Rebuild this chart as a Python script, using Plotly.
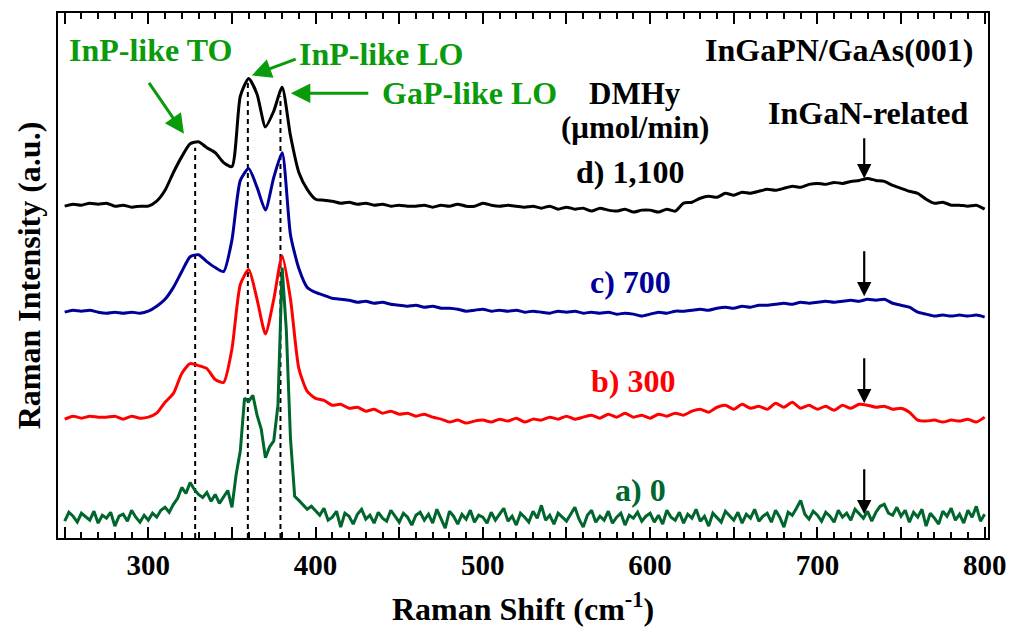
import plotly.graph_objects as go

# Raman shift grids (cm^-1)
shift = [250 + 5 * i for i in range(111)]          # 250 ... 800, step 5
shift_fine = [250 + 2.5 * i for i in range(221)]   # 250 ... 800, step 2.5

# Intensities (a.u.) of each spectrum above its own baseline, 10 values per 50 cm^-1
spec_d = [0, 2, 1, 3, 2, 3, 0, 1, -1, 0,
          0, 5, 16, 34, 50, 63, 65, 59, 54, 44,
          40, 111, 129, 113, 80, 96, 120, 71, 34, 17,
          7, 6, 5, 3, 4, 2, 3, 1, 2, 0,
          1, 0, 0, 1, -1, 1, 0, 2, 0, 0,
          3, 1, 0, 1, 0, -1, 0, -2, 0, -3,
          -1, -3, -2, -5, -2, -4, -5, -3, -6, -4,
          -4, -6, -3, -5, 3, 4, 8, 10, 9, 13,
          11, 14, 13, 15, 17, 16, 18, 20, 19, 22,
          23, 22, 24, 23, 25, 26, 28, 26, 25, 21,
          18, 15, 13, 7, 3, 4, 1, 1, 0, 1,
          -3]
spec_c = [0, 2, 1, 2, 0, -1, 0, -1, 0, -1,
          1, 6, 13, 25, 41, 56, 58, 51, 45, 41,
          73, 133, 145, 126, 103, 136, 161, 78, 44, 25,
          20, 17, 14, 13, 12, 10, 11, 9, 10, 8,
          7, 6, 7, 5, 6, 4, 4, 3, 1, 2,
          3, 1, 2, 1, 2, 0, 1, 0, -1, 1,
          0, 1, -1, 0, -1, 0, -2, -1, -2, -4,
          -2, 0, -1, 1, 1, 2, 3, 2, 4, 5,
          4, 6, 5, 7, 7, 8, 9, 8, 10, 9,
          10, 11, 10, 11, 12, 11, 13, 12, 13, 9,
          7, 5, 0, -2, -4, -3, -4, -3, -4, -3,
          -5]
spec_b = [-1, 2, 0, 2, 1, 1, 2, -1, 2, 0,
          1, 5, 16, 25, 45, 55, 53, 50, 39, 36,
          70, 135, 150, 120, 85, 120, 164, 120, 50, 27,
          20, 18, 13, 14, 10, 11, 7, 9, 5, 7,
          4, 5, 2, 4, 1, -1, -4, -2, -5, -3,
          -2, -4, -1, -3, 0, -4, -1, -2, 1, -1,
          2, -1, 1, 3, 0, 4, 1, 5, 1, 3,
          0, 4, 2, 5, 3, 7, 9, 6, 11, 13,
          9, 14, 10, 12, 9, 15, 11, 16, 10, 13,
          9, 12, 8, 13, 10, 14, 13, 11, 12, 9,
          10, 6, -2, -3, -2, -4, -2, -3, -1, -4,
          1]
# Undoped sample, sampled every 2.5 cm^-1, 20 values per 50 cm^-1
spec_a = [-3, 6, 2, -4, 5, 1, -2, 7, -5, 3, 0, 6, -8, 2, 4, -3, 8, 1, -4, 3,
          -2, 5, 1, 8, 11, 6, 14, 20, 31, 25, 36, 29, 24, 21, 26, 17, 24, 15, 22, 28,
          11, 44, 68, 121, 118, 124, 104, 90, 61, 72, 78, 114, 253, 190, 80, 22, 18, 14, 9, 12,
          8, 3, 10, -2, 1, 7, -9, 5, 2, -6, 4, 9, -1, 3, -5, 6, 0, -3, 8, 2,
          -4, 5, 1, -7, 3, 6, -2, 4, -5, 9, 0, -10, 7, 2, -6, 4, -1, 8, -4, 3,
          1, -5, 6, -2, 4, 10, -3, 2, -7, 5, 1, -4, 7, 0, 13, -2, 3, -6, 5, 1,
          -3, 4, 11, -1, -9, 3, 8, -4, 2, -2, 7, -5, 1, 5, -7, 3, 0, 6, -3, 2,
          5, -4, 3, -6, 8, 1, -2, 6, -5, 4, 0, 9, -3, 2, -8, 5, 1, -4, 7, 3,
          -2, 6, -5, 4, 0, 9, -3, 2, 5, -4, 8, 1, -9, 6, 3, 10, 18, 4, -1, 7,
          3, -3, 6, 2, -4, 8, 1, 5, -2, 9, 4, 0, 7, -3, 6, 12, 14, 5, 3, 11,
          2, 8, -4, 6, 1, 9, -8, 5, 0, -6, 7, 2, 10, -2, 4, -5, 8, 1, 12, -3,
          4]

for arr, grid in ((spec_d, shift), (spec_c, shift), (spec_b, shift), (spec_a, shift_fine)):
    assert len(arr) == len(grid)

# Vertical offsets used to stack the spectra
offsets = {"a": 20, "b": 121, "c": 228, "d": 335}

series_names = ["d) 1,100", "c) 700", "b) 300", "a) 0"]
series_keys = ["d", "c", "b", "a"]
series_data = [spec_d, spec_c, spec_b, spec_a]
series_grid = [shift, shift, shift, shift_fine]
series_colors = ["#000000", "#000099", "#ff0000", "#00662e"]
series_smooth = [True, True, True, False]

# Phonon mode positions (cm^-1): InP-like TO, InP-like LO, GaP-like LO
mode_positions = [328, 359.5, 379]
mode_tops = [394, 461, 446]

# InGaN-related feature position and arrow extents for each spectrum
ingan_shift = 728
ingan_arrows = {"d": (405, 363), "c": (291, 244), "b": (183, 136), "a": (71, 24)}

# Sample label positions (shift, intensity)
sample_labels = {"d": (588, 369), "c": (588, 258), "b": (589.5, 158), "a": (594, 48)}

FONT = "Liberation Serif, Times New Roman, serif"
GREEN_TXT = "#0a9b0a"

fig = go.Figure()

# Dashed guides at the phonon modes
for xp, top in zip(mode_positions, mode_tops):
    fig.add_shape(type="line", xref="x", yref="y", x0=xp, x1=xp, y0=0, y1=top,
                  line=dict(color="black", width=2, dash="5px,4px"), layer="below")

for name, key, data, grid, color, smooth in zip(series_names, series_keys, series_data,
                                                series_grid, series_colors, series_smooth):
    line = dict(color=color, width=3)
    if smooth:
        line.update(shape="spline", smoothing=0.6)
    fig.add_trace(go.Scatter(
        x=grid, y=[v + offsets[key] for v in data], mode="lines",
        line=line, name=name, showlegend=False,
    ))

ann = []
# Sample labels
for key, name, color in zip(series_keys, series_names, series_colors):
    lx, ly = sample_labels[key]
    ann.append(dict(x=lx, y=ly, text=name, showarrow=False,
                    font=dict(family=FONT, size=32, color=color, weight="bold")))

# Header texts
ann += [
    dict(x=794, y=493, text="InGaPN/GaAs(001)", xanchor="right", showarrow=False,
         font=dict(family=FONT, size=32, color="black", weight="bold")),
    dict(x=591, y=449, text="DMHy", showarrow=False,
         font=dict(family=FONT, size=31, color="black", weight="bold")),
    dict(x=591, y=414, text="(\u03bcmol/min)", showarrow=False,
         font=dict(family=FONT, size=31, color="black", weight="bold")),
    dict(x=730, y=429, text="InGaN-related", showarrow=False,
         font=dict(family=FONT, size=32, color="black", weight="bold")),
    dict(x=301.5, y=493, text="InP-like TO", showarrow=False,
         font=dict(family=FONT, size=32, color=GREEN_TXT, weight="bold")),
    dict(x=439, y=489, text="InP-like LO", showarrow=False,
         font=dict(family=FONT, size=32, color=GREEN_TXT, weight="bold")),
    dict(x=492, y=449, text="GaP-like LO", showarrow=False,
         font=dict(family=FONT, size=32, color=GREEN_TXT, weight="bold")),
]

# Green arrows pointing at the phonon modes
for (tx, ty), (hx, hy) in [((299.8, 461), (321.3, 408)),
                           ((389, 484), (361.9, 467)),
                           ((432.4, 449), (385.2, 449))]:
    ann.append(dict(x=hx, y=hy, ax=tx, ay=ty, xref="x", yref="y", axref="x", ayref="y",
                    text="", showarrow=True, arrowhead=2, arrowsize=1.3,
                    arrowwidth=3, arrowcolor=GREEN_TXT))

# Black arrows marking the InGaN-related band
for key in series_keys:
    top, tip = ingan_arrows[key]
    ann.append(dict(x=ingan_shift, y=tip, ax=ingan_shift, ay=top, xref="x", yref="y",
                    axref="x", ayref="y", text="", showarrow=True, arrowhead=2,
                    arrowsize=1.3, arrowwidth=2.2, arrowcolor="black"))

tick_vals = list(range(250, 801, 50))
tick_text = [str(v) if v % 100 == 0 else "" for v in tick_vals]

fig.update_layout(
    width=1017, height=632,
    margin=dict(l=58, r=29, t=11, b=91),
    paper_bgcolor="white", plot_bgcolor="white",
    font=dict(family=FONT, size=29, color="black", weight="bold"),
    annotations=ann,
    xaxis=dict(
        range=[246, 802], tickmode="array", tickvals=tick_vals, ticktext=tick_text,
        ticks="inside", ticklen=11, tickwidth=2, tickcolor="black",
        minor=dict(dtick=10, ticks="inside", ticklen=6, tickwidth=1.5, tickcolor="black"),
        showline=True, linecolor="black", linewidth=2, mirror="ticks",
        showgrid=False, zeroline=False,
        tickfont=dict(family=FONT, size=29, weight="bold"),
        title=dict(text="Raman Shift (cm<sup>-1</sup>)", standoff=18,
                   font=dict(family=FONT, size=32, weight="bold")),
    ),
    yaxis=dict(
        range=[0, 530], showticklabels=False, ticks="",
        showline=True, linecolor="black", linewidth=2, mirror=True,
        showgrid=False, zeroline=False,
        title=dict(text="Raman Intensity (a.u.)", standoff=6,
                   font=dict(family=FONT, size=32, weight="bold")),
    ),
)

fig.write_html("out.html")
